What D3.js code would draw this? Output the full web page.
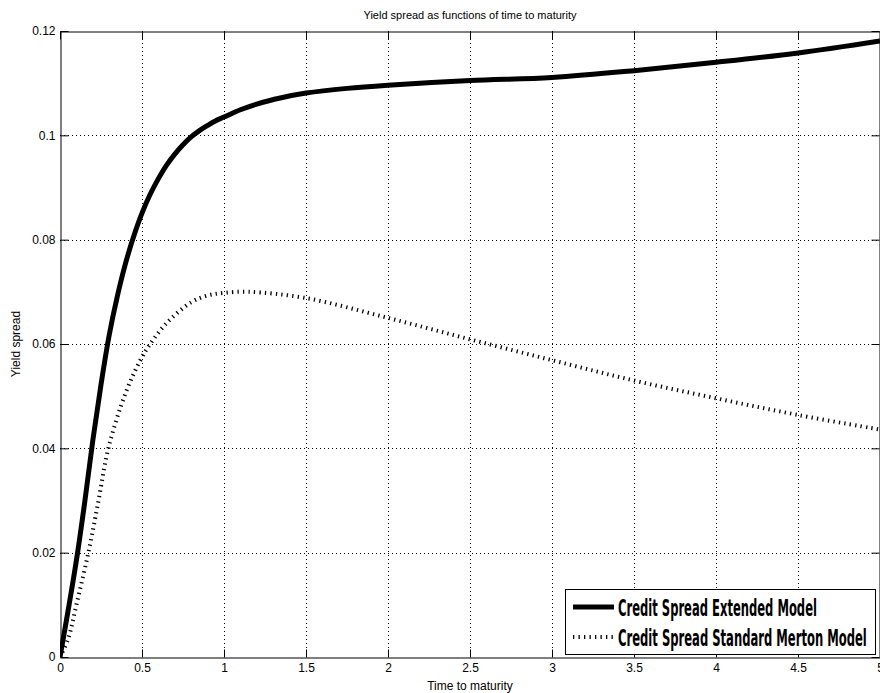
<!DOCTYPE html>
<html><head><meta charset="utf-8">
<script src="https://cdn.jsdelivr.net/npm/d3@7"></script>
<style>body{margin:0;background:#fff}svg{display:block}</style>
</head><body><svg id="c" width="880" height="693"></svg>
<script>
const extT = [0,0.05,0.1,0.15,0.2,0.25,0.3,0.35,0.4,0.45,0.5,0.55,0.6,0.65,0.7,0.75,0.8,0.85,0.9,0.95,1.0,1.1,1.2,1.35,1.5,1.75,2.0,2.5,3.0,3.5,4.0,4.5,5.0];
const extV = [0,0.0090,0.0185,0.0295,0.0415,0.0522,0.0617,0.0692,0.0755,0.0807,0.0851,0.0887,0.0917,0.0943,0.0964,0.0982,0.0997,0.1009,0.1019,0.1028,0.1035,0.1049,0.1060,0.1072,0.1081,0.1090,0.1096,0.1105,0.1111,0.1124,0.1140,0.1158,0.1181];
const merT = [0,0.05,0.1,0.173,0.235,0.295,0.4,0.49,0.55,0.65,0.8,0.9,1.0,1.15,1.5,2.0,2.5,3.0,3.5,4.0,4.5,5.0];
const merV = [0,0.0035,0.0100,0.0200,0.0300,0.0400,0.0506,0.0569,0.0600,0.0640,0.0680,0.0693,0.0698,0.0700,0.0688,0.0650,0.0609,0.0569,0.0530,0.0496,0.0464,0.0436];
const xTicks = [0,0.5,1,1.5,2,2.5,3,3.5,4,4.5,5];
const yTicks = [0,0.02,0.04,0.06,0.08,0.1,0.12];
const legendLabels = ["Credit Spread Extended Model","Credit Spread Standard Merton Model"];

const svg = d3.select("#c");
const L=60,R=880,T=31,B=657;
const x = d3.scaleLinear().domain([0,5]).range([L,R]);
const y = d3.scaleLinear().domain([0,0.12]).range([B,T]);
const font = "Liberation Sans, Arial, sans-serif";
const dotDash = "1.3,4.2";

// grid
const g = svg.append("g");
g.selectAll(".gx").data(xTicks.slice(1,-1)).join("line")
  .attr("x1",d=>x(d)+0.5).attr("x2",d=>x(d)+0.5).attr("y1",T).attr("y2",B)
  .attr("stroke","#000").attr("stroke-width",1).attr("stroke-dasharray","1,3");
g.selectAll(".gy").data(yTicks.slice(1,-1)).join("line")
  .attr("y1",d=>Math.round(y(d))+0.5).attr("y2",d=>Math.round(y(d))+0.5).attr("x1",L).attr("x2",R)
  .attr("stroke","#000").attr("stroke-width",1).attr("stroke-dasharray","1,3");

// axes
const fmt = d=>d===0?"0":String(d);
const ax = svg.append("g").attr("transform",`translate(0,${B+0.5})`)
  .call(d3.axisBottom(x).tickValues(xTicks).tickFormat(fmt).tickSizeInner(-8).tickSizeOuter(0).tickPadding(6));
const ay = svg.append("g").attr("transform",`translate(${L+0.5},0)`)
  .call(d3.axisLeft(y).tickValues(yTicks).tickFormat(fmt).tickSizeInner(-8).tickSizeOuter(0).tickPadding(5));
const at = svg.append("g").attr("transform",`translate(0,${T+0.5})`)
  .call(d3.axisTop(x).tickValues(xTicks).tickFormat("").tickSizeInner(-8).tickSizeOuter(0));
const ar = svg.append("g").attr("transform",`translate(${R-0.5},0)`)
  .call(d3.axisRight(y).tickValues(yTicks).tickFormat("").tickSizeInner(-8).tickSizeOuter(0));
[ax,ay,at,ar].forEach(a=>{
  a.selectAll("path,line").attr("stroke","#000");
  a.selectAll("text").attr("fill","#000").style("font-family",font).style("font-size","12px");
});

// lines
const line = d3.line().x(d=>x(d[0])).y(d=>y(d[1])).curve(d3.curveCatmullRom.alpha(0.5));
const ext = extT.map((t,i)=>[t,extV[i]]);
const mer = merT.map((t,i)=>[t,merV[i]]);
svg.append("clipPath").attr("id","pc").append("rect").attr("x",L).attr("y",T-4).attr("width",R-L).attr("height",B-T+4);
svg.append("path").datum(mer).attr("d",line).attr("fill","none").attr("stroke","#000")
  .attr("stroke-width",4).attr("stroke-dasharray",dotDash).attr("clip-path","url(#pc)");
svg.append("path").datum(ext).attr("d",line).attr("fill","none").attr("stroke","#000")
  .attr("stroke-width",5).attr("stroke-linejoin","round").attr("clip-path","url(#pc)");

// title & labels
svg.append("text").attr("x",470).attr("y",19).attr("text-anchor","middle")
  .style("font-family",font).style("font-size","11px").text("Yield spread as functions of time to maturity");
svg.append("text").attr("x",470).attr("y",690).attr("text-anchor","middle")
  .style("font-family",font).style("font-size","12px").text("Time to maturity");
svg.append("text").attr("transform","translate(20,344) rotate(-90)").attr("text-anchor","middle")
  .style("font-family",font).style("font-size","12px").text("Yield spread");

// legend
const lg = svg.append("g");
lg.append("rect").attr("x",565.5).attr("y",589.5).attr("width",310).attr("height",65)
  .attr("fill","#fff").attr("stroke","#000").attr("stroke-width",1);
const ly = [607,637];
const lw = [199,249];
lg.append("line").attr("x1",573).attr("x2",614).attr("y1",ly[0]).attr("y2",ly[0]).attr("stroke","#000").attr("stroke-width",5);
lg.append("line").attr("x1",573).attr("x2",614).attr("y1",ly[1]).attr("y2",ly[1]).attr("stroke","#000").attr("stroke-width",4).attr("stroke-dasharray",dotDash);
legendLabels.forEach((t,i)=>{
  const tx = lg.append("text").attr("x",0).attr("y",0)
    .style("font-family","'Liberation Sans Narrow','DejaVu Sans Condensed',sans-serif").style("font-size","23px").style("font-weight","bold").text(t);
  const w = tx.node().getComputedTextLength();
  const sx = Math.min(1, lw[i]/w);
  tx.attr("transform",`translate(618,${ly[i]+9}) scale(${sx},1)`);
});
</script></body></html>
